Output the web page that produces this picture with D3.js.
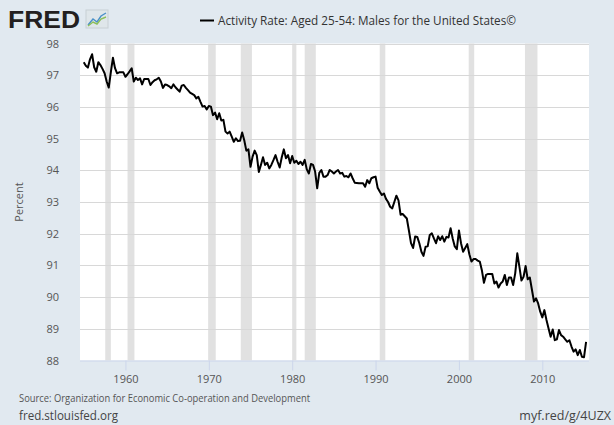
<!DOCTYPE html>
<html><head><meta charset="utf-8">
<script src="https://cdn.jsdelivr.net/npm/d3@7/dist/d3.min.js"></script>
<style>
html,body{margin:0;padding:0;background:#e1e9f0;}
svg{display:block;font-family:"Open Sans",sans-serif;}
</style></head><body>
<svg id="c" width="614" height="425"></svg>
<script>
// Quarterly observations starting 1955 Q1
const startYear = 1955;
const values = [
97.41,97.30,97.24,97.50,97.66,97.25,97.11,97.41,97.32,97.20,97.06,96.80,96.61,97.10,97.55,97.22,
97.06,97.09,97.09,97.09,96.95,97.03,97.12,97.22,96.80,96.92,96.85,96.90,96.71,96.88,96.88,96.88,
96.69,96.78,96.84,96.87,96.92,96.80,96.60,96.71,96.69,96.65,96.59,96.71,96.62,96.55,96.48,96.67,
96.69,96.60,96.53,96.45,96.41,96.37,96.27,96.32,96.16,96.01,96.03,95.92,96.03,96.01,95.74,95.82,
95.61,95.80,95.57,95.59,95.22,95.16,95.22,95.06,94.90,95.01,94.92,94.93,95.19,94.95,94.62,94.66,
94.11,94.43,94.62,94.48,93.95,94.17,94.41,94.17,94.24,94.06,94.17,94.32,94.48,94.27,94.09,94.41,
94.66,94.38,94.48,94.22,94.45,94.24,94.30,94.20,94.27,94.17,94.33,94.03,93.90,94.20,94.17,93.96,
93.43,93.92,94.01,93.80,93.80,93.85,94.01,93.96,93.90,93.96,94.01,93.90,93.92,93.80,93.82,93.78,
93.90,93.75,93.61,93.60,93.59,93.59,93.59,93.48,93.69,93.59,93.75,93.78,93.80,93.45,93.33,93.22,
93.27,93.10,93.00,92.85,92.80,93.00,93.20,93.05,92.60,92.62,92.55,92.48,92.10,91.70,91.55,91.91,
91.90,91.70,91.43,91.30,91.59,91.60,91.96,92.01,91.85,91.70,91.92,91.80,91.92,91.75,91.90,91.88,
92.17,91.85,91.60,91.51,92.10,91.70,91.43,91.55,91.67,91.35,91.12,91.20,91.20,91.15,91.12,90.85,
90.45,90.70,90.73,90.73,90.73,90.43,90.49,90.30,90.43,90.49,90.70,90.38,90.62,90.62,90.38,90.75,
91.38,90.96,90.52,90.64,90.98,90.56,90.62,90.24,89.86,89.96,89.80,89.54,89.36,89.59,89.28,89.01,
88.75,88.98,88.64,88.67,88.96,88.80,88.75,88.67,88.59,88.64,88.44,88.28,88.35,88.17,88.33,88.12,
88.10,88.59
];
const recessionStarts = [1957.58,1960.25,1969.92,1973.83,1980.0,1981.5,1990.5,2001.17,2007.92];
const recessionEnds   = [1958.25,1961.08,1970.83,1975.17,1980.5,1982.83,1991.17,2001.83,2009.42];
const yTicks = [88,89,90,91,92,93,94,95,96,97,98];
const xTicks = [1960,1970,1980,1990,2000,2010];
const seriesTitle = "Activity Rate: Aged 25-54: Males for the United States©";
const yLabel = "Percent";
const sourceText = "Source: Organization for Economic Co-operation and Development";

const svg = d3.select("#c");
const L = 80, R = 589, T = 43.5, B = 360.5;
const x = d3.scaleLinear().domain([1954.55, 2015.6]).range([L, R]);
const y = d3.scaleLinear().domain([88, 98]).range([B, T]);

svg.append("rect").attr("x", L).attr("y", T).attr("width", R - L).attr("height", B - T).attr("fill", "#fff");

// recession bars
svg.append("g").selectAll("rect").data(recessionStarts).join("rect")
  .attr("x", (d) => x(d))
  .attr("width", (d, i) => x(recessionEnds[i]) - x(d))
  .attr("y", T).attr("height", B - T)
  .attr("fill", "#e1e1e1");

// gridlines
svg.append("g").selectAll("line").data(yTicks.filter(d => d !== 88)).join("line")
  .attr("x1", L).attr("x2", R)
  .attr("y1", d => Math.round(y(d)) + 0.5).attr("y2", d => Math.round(y(d)) + 0.5)
  .attr("stroke", "#d8d8d8").attr("stroke-width", 1);

// y axis labels
const yAxis = d3.axisLeft(y).tickValues(yTicks).tickSize(0).tickPadding(0);
const gy = svg.append("g").attr("transform", `translate(${L - 21},0)`).call(yAxis);
gy.select(".domain").remove();
gy.selectAll("text").attr("fill", "#555").style("font-size", "11px").style("font-family", "'Open Sans',sans-serif");

// x axis
const xAxis = d3.axisBottom(x).tickValues(xTicks).tickFormat(d3.format("d")).tickSize(10).tickPadding(5);
const gx = svg.append("g").attr("transform", `translate(0,${B})`).call(xAxis);
gx.select(".domain").attr("stroke", "#ccd6eb").attr("d", `M${L},0.5H${R}`);
gx.selectAll(".tick line").attr("stroke", "#ccd6eb");
gx.selectAll("text").attr("fill", "#555").style("font-size", "11px").style("font-family", "'Open Sans',sans-serif");

// line
const line = d3.line().x((d, i) => x(startYear + i * 0.25)).y(d => y(d));
svg.append("path").datum(values).attr("d", line)
  .attr("fill", "none").attr("stroke", "#000").attr("stroke-width", 2).attr("stroke-linejoin", "round");

// y label
svg.append("text").attr("transform", "translate(23,202) rotate(-90)")
  .attr("text-anchor", "middle").attr("fill", "#555").style("font-size", "11px").text(yLabel);

// header logo
svg.append("text").attr("x", 8).attr("y", 28).attr("fill", "#231f20")
  .style("font-family", "'Liberation Sans',sans-serif").style("font-weight", "900").style("font-size", "24px")
  .attr("textLength", 72).attr("lengthAdjust", "spacingAndGlyphs").text("FRED");
const ic = svg.append("g").attr("transform", "translate(86,10)");
ic.append("rect").attr("width", 22).attr("height", 18).attr("fill", "#dfe6ea").attr("stroke", "#c8d0d4");
ic.append("polyline").attr("points", "2,15 7,9 11,12 15,6 20,3").attr("fill", "none").attr("stroke", "#4a90c8").attr("stroke-width", 1.4);
ic.append("polyline").attr("points", "2,16 7,12 11,14 15,9 20,7").attr("fill", "none").attr("stroke", "#8bbf5a").attr("stroke-width", 1.4);

// legend
svg.append("line").attr("x1", 200).attr("x2", 214).attr("y1", 20.5).attr("y2", 20.5).attr("stroke", "#000").attr("stroke-width", 2);
svg.append("text").attr("x", 218).attr("y", 24.5).attr("fill", "#333").style("font-size", "12px")
  .attr("textLength", 298).attr("lengthAdjust", "spacingAndGlyphs").text(seriesTitle);

// footer
svg.append("text").attr("x", 19).attr("y", 402).attr("fill", "#555").style("font-size", "10px")
  .attr("textLength", 291).attr("lengthAdjust", "spacingAndGlyphs").text(sourceText);
svg.append("text").attr("x", 19).attr("y", 420).attr("fill", "#444").style("font-size", "12px")
  .attr("textLength", 99).attr("lengthAdjust", "spacingAndGlyphs").text("fred.stlouisfed.org");
svg.append("text").attr("x", 611).attr("y", 420).attr("text-anchor", "end").attr("fill", "#444").style("font-size", "12.5px").text("myf.red/g/4UZX");
</script>
</body></html>
